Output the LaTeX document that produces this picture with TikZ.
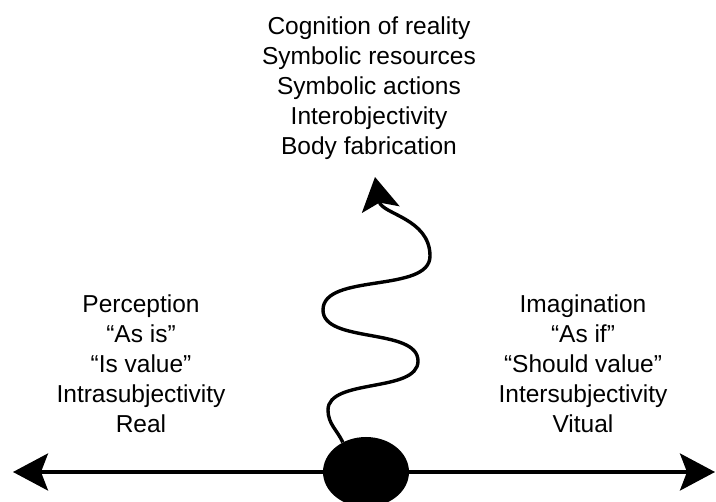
\documentclass[tikz,border=0pt]{standalone}
\usepackage{fontspec}
\setmainfont{Liberation Sans}
\usepackage{tikz}
\usetikzlibrary{arrows.meta}
\usetikzlibrary{shapes.geometric}
\pgfdeclarelayer{edgelayer}
\pgfdeclarelayer{nodelayer}
\pgfsetlayers{edgelayer,main,nodelayer}
\tikzstyle{words}=[align=center,inner sep=0pt,font=\fontsize{24.5}{30}\selectfont]
\tikzstyle{blob}=[ellipse,fill=black,draw=none,minimum width=86pt,minimum height=70pt,inner sep=0pt]
\tikzstyle{axis}=[-{Stealth[length=35pt,width=37pt,inset=7pt]},draw=black,line width=3.4pt]
\tikzstyle{wave}=[-{Stealth[length=33pt,width=38pt,inset=7pt]},draw=black,line width=3.4pt]

\begin{document}
\begin{tikzpicture}[x=1pt,y=1pt]
	\useasboundingbox (0,0) rectangle (716,-502);
	\begin{pgfonlayer}{nodelayer}
		\node [style=blob] (0) at (366, -472) {};
		\node [style=words] (1) at (369, -88) {Cognition of reality\\Symbolic resources\\Symbolic actions\\Interobjectivity\\Body fabrication};
		\node [style=words] (2) at (141, -364) {Perception\\“As is”\\“Is value”\\Intrasubjectivity\\Real};
		\node [style=words] (3) at (583, -364) {Imagination\\“As if”\\“Should value”\\Intersubjectivity\\Vitual};
	\end{pgfonlayer}
	\coordinate (4) at (13, -472);
	\coordinate (5) at (715, -472);
	\coordinate (6) at (328, -410);
	\coordinate (7) at (418, -361);
	\coordinate (8) at (323, -310);
	\coordinate (9) at (430, -256);
	\coordinate (10) at (375, -177);
	\begin{pgfonlayer}{edgelayer}
		\draw [style=wave] (0.128) to[out=115, in=-90] (6) to[out=90, in=-90, looseness=0.8] (7)
			to[out=90, in=-90, looseness=0.8] (8) to[out=90, in=-90, looseness=0.8] (9) to[out=90, in=-80] (10);
		\draw [style=axis] (0) -- (4);
		\draw [style=axis] (0) -- (5);
	\end{pgfonlayer}
\end{tikzpicture}
\end{document}
